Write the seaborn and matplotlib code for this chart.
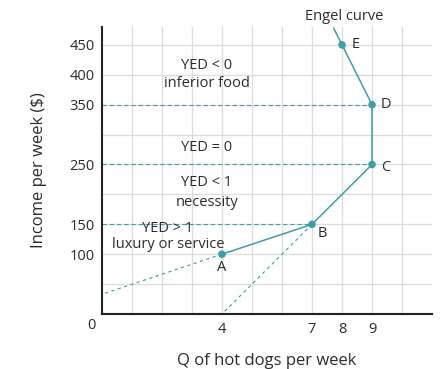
import numpy as np
import pandas as pd
import seaborn as sns
import matplotlib.pyplot as plt

# Engel curve points
labels = ['A', 'B', 'C', 'D', 'E']
quantity = [4, 7, 9, 9, 8]
income = [100, 150, 250, 350, 450]

x_ticks = [4, 7, 8, 9]
y_ticks = [100, 150, 250, 350, 400, 450]

# curve tail above E, toward the "Engel curve" label
tail_q = [8, 7.72]
tail_y = [450, 478]

# dashed guide rays
ray_a_q = [4, 0]
ray_a_y = [100, 33]
ray_b_q = [7, 4]
ray_b_y = [150, 0]

teal = '#3f9fa6'
txt = '#2b2b2b'

sns.set_style('white')
plt.rcParams['font.family'] = ['Open Sans', 'DejaVu Sans']

df = pd.DataFrame({'q': quantity, 'inc': income, 'lab': labels})

fig = plt.figure(figsize=(4.45, 3.69), dpi=100)
ax = fig.add_axes([0.229, 0.149, 0.742, 0.778])

ax.set_xlim(0, 11)
ax.set_ylim(0, 480)
for gx in range(1, 11):
    ax.axvline(gx, color='#dcdcdc', lw=0.9, zorder=0)
for gy in range(50, 480, 50):
    ax.axhline(gy, color='#dcdcdc', lw=0.9, zorder=0)

# horizontal dashed guides to B, C, D
for q, y in zip(quantity[1:4], income[1:4]):
    ax.plot([0, q], [y, y], color=teal, lw=0.8, ls=(0, (4, 2.5)), zorder=1)
ax.plot(ray_a_q, ray_a_y, color=teal, lw=0.8, ls=(0, (3, 3)), zorder=1)
ax.plot(ray_b_q, ray_b_y, color=teal, lw=0.8, ls=(0, (3, 3)), zorder=1)

sns.lineplot(data=df, x='q', y='inc', sort=False, estimator=None,
             color=teal, lw=1.1, ax=ax, zorder=2)
ax.plot(tail_q, tail_y, color=teal, lw=1.1, zorder=2)
sns.scatterplot(data=df, x='q', y='inc', color=teal, s=30,
                edgecolor='none', ax=ax, zorder=3)

fs = 10.5
offsets = {'A': (0, -22), 'B': (0.35, -15), 'C': (0.45, -5),
           'D': (0.45, 0), 'E': (0.45, 0)}
for q, y, lab in zip(quantity, income, labels):
    dx, dy = offsets[lab]
    ax.text(q + dx, y + dy, lab, fontsize=fs, color=txt,
            ha='center', va='center')

ax.text(8.07, 498, 'Engel curve', fontsize=fs, color=txt,
        ha='center', va='center', clip_on=False)

ax.text(3.5, 415, 'YED < 0', fontsize=fs, color=txt, ha='center', va='center')
ax.text(3.5, 386, 'inferior food', fontsize=fs, color=txt, ha='center', va='center')
ax.text(3.5, 278, 'YED = 0', fontsize=fs, color=txt, ha='center', va='center')
ax.text(3.5, 220, 'YED < 1', fontsize=fs, color=txt, ha='center', va='center')
ax.text(3.5, 187, 'necessity', fontsize=fs, color=txt, ha='center', va='center')
ax.text(2.2, 143, 'YED > 1', fontsize=fs, color=txt, ha='center', va='center')
ax.text(2.2, 117, 'luxury or service', fontsize=fs, color=txt, ha='center', va='center')

ax.text(-0.35, -19, '0', fontsize=10.5, color=txt, ha='center', va='center',
        clip_on=False)

ax.set_xticks(x_ticks)
ax.set_yticks(y_ticks)
ax.tick_params(axis='both', length=4, width=1.2, color='#222222',
               labelsize=10.5, labelcolor=txt, direction='out', pad=2)
ax.tick_params(axis='y', pad=1)

sns.despine(ax=ax)
for s in ['left', 'bottom']:
    ax.spines[s].set_linewidth(1.5)
    ax.spines[s].set_color('#222222')

ax.set_xlabel('Q of hot dogs per week', fontsize=12, color=txt, labelpad=11)
ax.set_ylabel('Income per week ($)', fontsize=12, color=txt, labelpad=16)

fig.savefig('out.png', dpi=100)
